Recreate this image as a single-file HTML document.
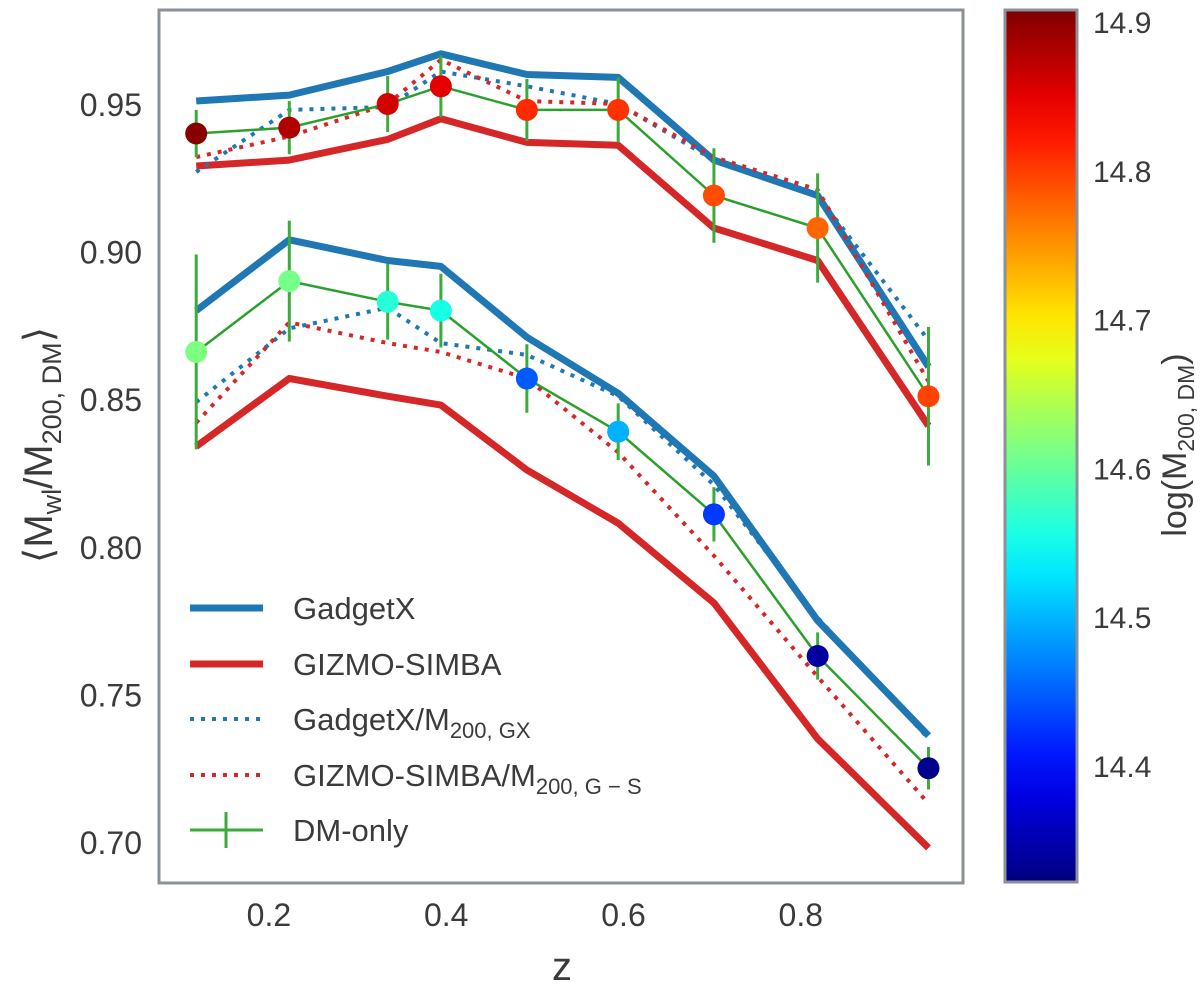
<!DOCTYPE html>
<html><head><meta charset="utf-8">
<style>
html,body{margin:0;padding:0;background:#fff;}
svg{display:block;font-family:"Liberation Sans",sans-serif;}
</style></head>
<body>
<svg id="chart" width="1200" height="991" viewBox="0 0 1200 991" xmlns="http://www.w3.org/2000/svg">
<defs>
<linearGradient id="jetgrad" x1="0" y1="1" x2="0" y2="0"></linearGradient>
</defs>
<g id="plot"></g>
</svg>
<script>
const zVals=[0.118,0.223,0.334,0.394,0.491,0.594,0.702,0.819,0.944];
const gxUpper=[0.951,0.953,0.961,0.967,0.960,0.959,0.931,0.919,0.861];
const gsUpper=[0.929,0.931,0.938,0.945,0.937,0.936,0.908,0.897,0.841];
const gxMUpper=[0.927,0.948,0.949,0.961,0.956,0.950,0.931,0.919,0.870];
const gsMUpper=[0.932,0.939,0.950,0.965,0.951,0.950,0.932,0.921,0.856];
const dmUpper=[0.940,0.942,0.950,0.956,0.948,0.948,0.919,0.908,0.851];
const dmUpperErr=[0.008,0.009,0.0095,0.0105,0.0105,0.011,0.016,0.0185,0.0235];
const massUpper=[14.905,14.88,14.86,14.85,14.81,14.805,14.79,14.775,14.795];
const gxLower=[0.880,0.904,0.897,0.895,0.871,0.852,0.824,0.775,0.736];
const gsLower=[0.834,0.857,0.851,0.848,0.826,0.808,0.781,0.735,0.698];
const gxMLower=[0.849,0.874,0.881,0.869,0.865,0.851,0.821,0.776,0.735];
const gsMLower=[0.842,0.876,0.869,0.866,0.857,0.832,0.797,0.756,0.713];
const dmLower=[0.866,0.890,0.883,0.880,0.857,0.839,0.811,0.763,0.725];
const dmLowerErr=[0.033,0.0205,0.0128,0.0125,0.0116,0.0096,0.0092,0.008,0.0072];
const massLower=[14.61,14.605,14.56,14.55,14.44,14.49,14.42,14.33,14.32];
const xTicks=[0.2,0.4,0.6,0.8];
const xTickLabels=["0.2","0.4","0.6","0.8"];
const yTicks=[0.70,0.75,0.80,0.85,0.90,0.95];
const yTickLabels=["0.70","0.75","0.80","0.85","0.90","0.95"];
const cTicks=[14.4,14.5,14.6,14.7,14.8,14.9];
const cTickLabels=["14.4","14.5","14.6","14.7","14.8","14.9"];
const cMin=14.312, cMax=14.909;

const NS="http://www.w3.org/2000/svg";
const svg=document.getElementById('chart');
const g=document.getElementById('plot');
const L=159,R=963,T=10,B=883;
function xs(z){return 91.6+z*886.5;}
function ys(v){return 104+(0.95-v)*2952;}
const CT=10,CB=882;
function cs(m){return 22+(14.9-m)*1488;}
function clamp(a){return Math.max(0,Math.min(1,a));}
function jet(m){const t=clamp((m-cMin)/(cMax-cMin));
 const r=clamp(1.5-Math.abs(4*t-3)),gg=clamp(1.5-Math.abs(4*t-2)),b=clamp(1.5-Math.abs(4*t-1));
 return `rgb(${Math.round(r*255)},${Math.round(gg*255)},${Math.round(b*255)})`;}
function el(tag,attrs,parent){const e=document.createElementNS(NS,tag);for(const k in attrs)e.setAttribute(k,attrs[k]);(parent||g).appendChild(e);return e;}
function pts(arr){return arr.map((v,i)=>xs(zVals[i]).toFixed(1)+','+ys(v).toFixed(1)).join(' ');}

let fr=el('rect',{x:L,y:T,width:R-L,height:B-T,fill:'#fff',stroke:'none'});



function line(arr,color,w,dash,name){
 const p=el('polyline',{points:pts(arr),fill:'none',stroke:color,'stroke-width':w,'stroke-linejoin':'round'});
 if(dash)p.setAttribute('stroke-dasharray',dash);
 
 
}
line(gxUpper,'#1f77b4',7,null,'gadgetx-line-upper');
line(gxLower,'#1f77b4',7,null,'gadgetx-line-lower');
line(gsUpper,'#d62728',7,null,'gizmo-simba-line-upper');
line(gsLower,'#d62728',7,null,'gizmo-simba-line-lower');
line(gxMUpper,'#1f77b4',4,'4 7','gadgetx-m200gx-line-upper');
line(gxMLower,'#1f77b4',4,'4 7','gadgetx-m200gx-line-lower');
line(gsMUpper,'#d62728',4,'4 7','gizmo-simba-m200gs-line-upper');
line(gsMLower,'#d62728',4,'4 7','gizmo-simba-m200gs-line-lower');

function dm(arr,err,mass,tag){
 line(arr,'#2ca02c',2.5,null,'dm-only-line-'+tag);
 arr.forEach((v,i)=>{
  const x=xs(zVals[i]);
  const eb=el('line',{x1:x,x2:x,y1:ys(v+err[i]),y2:ys(v-err[i]),stroke:'#3cab3c','stroke-width':3});
  
  
 });
 arr.forEach((v,i)=>{
  const c=el('circle',{cx:xs(zVals[i]),cy:ys(v),r:11,fill:jet(mass[i])});
  
  
 });
}
dm(dmUpper,dmUpperErr,massUpper,'upper');
dm(dmLower,dmLowerErr,massLower,'lower');

let fb=el('rect',{x:L,y:T,width:R-L,height:B-T,fill:'none',stroke:'#8a9199','stroke-width':3});



xTicks.forEach((t,i)=>{
 const tx=el('text',{x:xs(t),y:926,'font-size':32,fill:'#3b3b3b','text-anchor':'middle'});
 tx.textContent=xTickLabels[i];
 
 
});
yTicks.forEach((t,i)=>{
 const tx=el('text',{x:142,y:ys(t)+12,'font-size':32,fill:'#3b3b3b','text-anchor':'end'});
 tx.textContent=yTickLabels[i];
 
 
});
let xt=el('text',{x:562,y:980,'font-size':40,fill:'#3b3b3b','text-anchor':'middle'});
xt.textContent='z';



let yt=el('text',{x:0,y:0,'font-size':40,fill:'#3b3b3b','text-anchor':'middle',transform:'translate(52,445) rotate(-90)'});
yt.innerHTML='⟨M<tspan font-size="27" dy="9">wl</tspan><tspan dy="-9">/M</tspan><tspan font-size="27" dy="9">200, DM</tspan><tspan dy="-9">⟩</tspan>';



const legY=[608,664,719,775,830];
const legItems=[['GadgetX','#1f77b4',7,null],['GIZMO-SIMBA','#d62728',7,null],['GadgetX/M','#1f77b4',4,'4 7'],['GIZMO-SIMBA/M','#d62728',4,'4 7'],['DM-only','#3cab3c',3,null]];
const legSubs=[null,null,'200, GX','200, G − S',null];
legItems.forEach((it,i)=>{
 const y=legY[i];
 const gl=el('g',{});
 
 
 const ln=el('line',{x1:190,x2:263,y1:y,y2:y,stroke:it[1],'stroke-width':it[2]},gl);
 if(it[3])ln.setAttribute('stroke-dasharray',it[3]);
 if(i===4){el('line',{x1:226,x2:226,y1:y-18,y2:y+18,stroke:it[1],'stroke-width':3},gl);}
 const tx=el('text',{x:293,y:y+11,'font-size':31,fill:'#3b3b3b'},gl);
 if(legSubs[i]) tx.innerHTML=it[0]+'<tspan font-size="22" dy="8">'+legSubs[i]+'</tspan>';
 else tx.textContent=it[0];
});

const grad=document.getElementById('jetgrad');
for(let k=0;k<=20;k++){const m=cMin+(cMax-cMin)*k/20;
 const s=document.createElementNS(NS,'stop');s.setAttribute('offset',(k/20));s.setAttribute('stop-color',jet(m));grad.appendChild(s);}
let cb=el('rect',{x:1005,y:CT,width:72,height:CB-CT,fill:'url(#jetgrad)',stroke:'#8a9199','stroke-width':3});


cTicks.forEach((t,i)=>{
 const tx=el('text',{x:1093,y:cs(t)+11,'font-size':30,fill:'#3b3b3b'});
 tx.textContent=cTickLabels[i];
 
 
});
let ct=el('text',{x:0,y:0,'font-size':34,fill:'#3b3b3b','text-anchor':'middle',transform:'translate(1186,445) rotate(-90)'});
ct.innerHTML='log(M<tspan font-size="23" dy="8">200, DM</tspan><tspan dy="-8">)</tspan>';


</script>
</body></html>
